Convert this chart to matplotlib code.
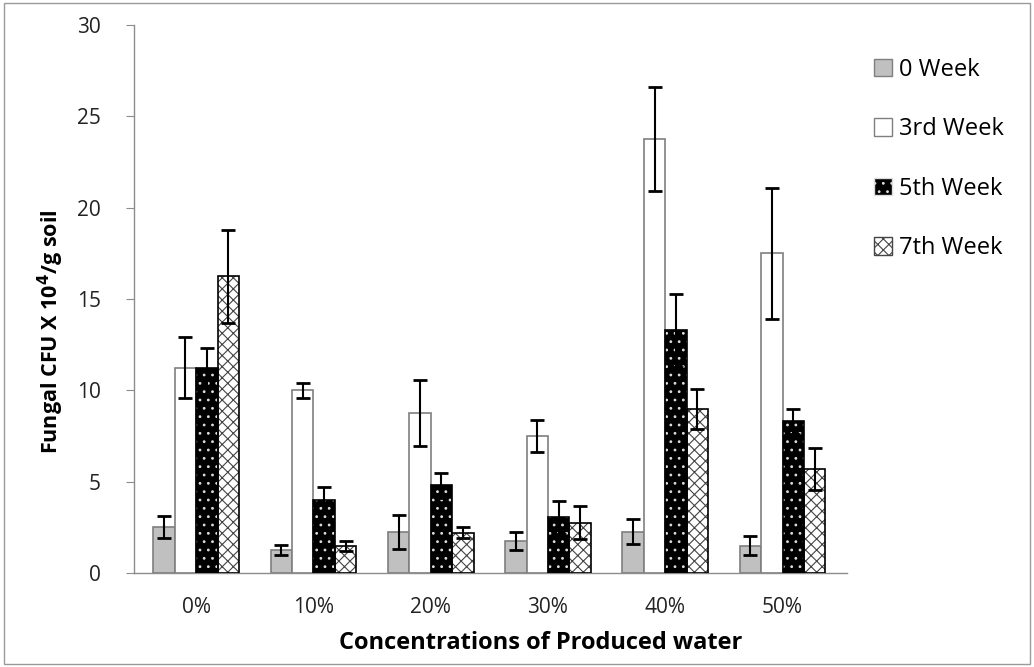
import numpy as np
import matplotlib
matplotlib.use('Agg')
import matplotlib.pyplot as plt
from matplotlib.patches import Rectangle, Patch

plt.rcParams['font.family'] = ['Open Sans', 'DejaVu Sans']
plt.rcParams['hatch.linewidth'] = 0.8

concentrations = ['0%', '10%', '20%', '30%', '40%', '50%']
series = ['0 Week', '3rd Week', '5th Week', '7th Week']

week0 = [2.5, 1.25, 2.25, 1.75, 2.25, 1.5]
week3 = [11.25, 10.0, 8.75, 7.5, 23.75, 17.5]
week5 = [11.25, 4.0, 4.8, 3.05, 13.3, 8.3]
week7 = [16.25, 1.5, 2.2, 2.75, 9.0, 5.7]

err0 = [0.6, 0.27, 0.95, 0.5, 0.68, 0.5]
err3 = [1.65, 0.4, 1.8, 0.87, 2.85, 3.58]
err5 = [1.05, 0.7, 0.7, 0.9, 2.0, 0.7]
err7 = [2.55, 0.27, 0.3, 0.9, 1.1, 1.15]

values = [week0, week3, week5, week7]
errors = [err0, err3, err5, err7]

fig = plt.figure(figsize=(10.34, 6.67), dpi=100)
ax = fig.add_axes([0.1296, 0.1409, 0.6896, 0.8216])

x = np.arange(len(concentrations))
w = 0.183
offsets = [-1.5 * w, -0.5 * w, 0.5 * w, 1.5 * w]

# 0 week - grey
ax.bar(x + offsets[0], week0, w, color='#c0c0c0', edgecolor='#7f7f7f', linewidth=1.2, zorder=2)
# 3rd week - white
ax.bar(x + offsets[1], week3, w, color='white', edgecolor='#7f7f7f', linewidth=1.2, zorder=2)
# 5th week - black with white dots
ax.bar(x + offsets[2], week5, w, color='black', edgecolor='#dddddd', hatch='..', linewidth=0, zorder=2)
ax.bar(x + offsets[2], week5, w, fill=False, edgecolor='black', linewidth=1.2, zorder=3)
# 7th week - crosshatch
ax.bar(x + offsets[3], week7, w, color='white', edgecolor='#444444', hatch='xxx', linewidth=0, zorder=2)
ax.bar(x + offsets[3], week7, w, fill=False, edgecolor='black', linewidth=1.2, zorder=3)

for off, vals, errs in zip(offsets, values, errors):
    ax.errorbar(x + off, vals, yerr=errs, fmt='none', ecolor='black',
                elinewidth=1.5, capsize=5, capthick=2, zorder=4)

ax.set_xlim(-0.53, 5.55)
ax.set_ylim(0, 30)
ax.set_yticks([0, 5, 10, 15, 20, 25, 30])
ax.set_xticks(x)
ax.set_xticklabels(concentrations)

for side in ['top', 'right']:
    ax.spines[side].set_visible(False)
for side in ['left', 'bottom']:
    ax.spines[side].set_color('#8c8c8c')
    ax.spines[side].set_linewidth(1.0)

ax.tick_params(axis='y', direction='out', length=6, color='#8c8c8c', labelsize=15, pad=18, labelcolor='#222222')
ax.tick_params(axis='x', length=0, labelsize=15, pad=17, labelcolor='#222222')

ax.set_ylabel(r'Fungal CFU X 10$^{\mathbf{4}}$/g soil', fontsize=15.5, fontweight='bold')
ax.yaxis.set_label_coords(-0.095, 0.44)
ax.set_xlabel('Concentrations of Produced water', fontsize=17, fontweight='bold')
ax.xaxis.set_label_coords(0.571, -0.105)

handles = [
    Patch(facecolor='#c0c0c0', edgecolor='#7f7f7f'),
    Patch(facecolor='white', edgecolor='#7f7f7f'),
    Patch(facecolor='black', edgecolor='#dddddd', hatch='..'),
    Patch(facecolor='white', edgecolor='#444444', hatch='xxx'),
]
leg = fig.legend(handles, series, loc='upper left', bbox_to_anchor=(0.825, 0.945),
                 frameon=False, fontsize=17, handlelength=0.75, handleheight=0.75,
                 handletextpad=0.3, labelspacing=1.5)

# thin border around the whole figure
fig.patches.append(Rectangle((0.004, 0.004), 0.992, 0.992, transform=fig.transFigure,
                             fill=False, edgecolor='#9a9a9a', linewidth=1.0))

fig.savefig('out.png', dpi=100)
